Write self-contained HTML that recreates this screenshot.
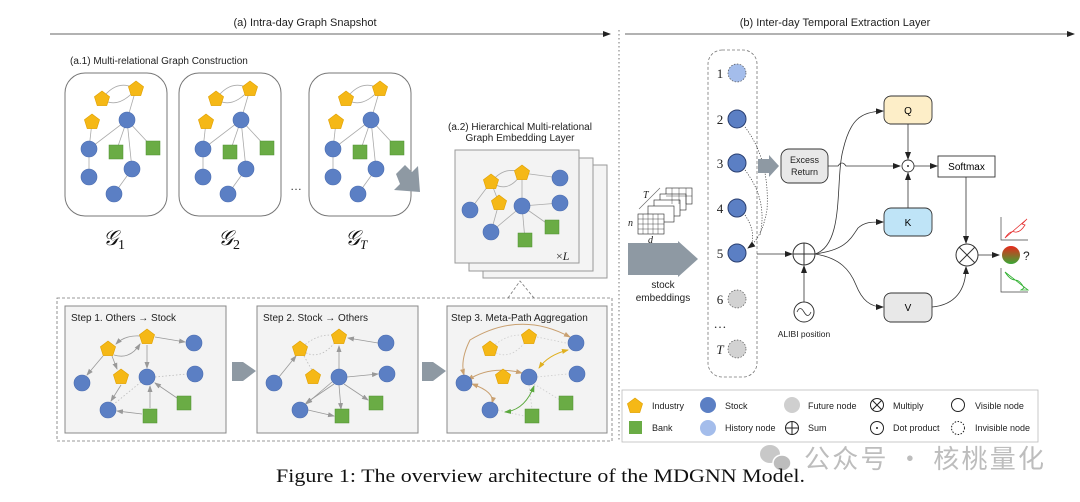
<!DOCTYPE html>
<html><head><meta charset="utf-8"><style>
html,body{margin:0;padding:0;background:#fff;width:1080px;height:502px;overflow:hidden}
svg{display:block}
</style></head><body>
<svg width="1080" height="502" viewBox="0 0 1080 502" xmlns="http://www.w3.org/2000/svg" font-family="Liberation Sans, sans-serif">
<defs>
<marker id="ah" markerWidth="8" markerHeight="8" refX="7" refY="4" orient="auto" markerUnits="userSpaceOnUse"><path d="M0,1 L8,4 L0,7 Z" fill="#222"/></marker>
<marker id="ahg" markerWidth="7" markerHeight="7" refX="6" refY="3.5" orient="auto" markerUnits="userSpaceOnUse"><path d="M0,1 L7,3.5 L0,6 Z" fill="#999"/></marker>
<marker id="aht" markerWidth="7" markerHeight="7" refX="6" refY="3.5" orient="auto-start-reverse" markerUnits="userSpaceOnUse"><path d="M0,1 L7,3.5 L0,6 Z" fill="#c9a070"/></marker>
<marker id="ahy" markerWidth="7" markerHeight="7" refX="6" refY="3.5" orient="auto-start-reverse" markerUnits="userSpaceOnUse"><path d="M0,1 L7,3.5 L0,6 Z" fill="#e0b020"/></marker>
<marker id="ahgr" markerWidth="7" markerHeight="7" refX="6" refY="3.5" orient="auto-start-reverse" markerUnits="userSpaceOnUse"><path d="M0,1 L7,3.5 L0,6 Z" fill="#5aa83c"/></marker>
<g id="P"><path d="M0,-8 L7.6,-2.3 L4.8,6.6 L-4.8,6.6 L-7.6,-2.3 Z" fill="#f5b816" stroke="#e0a000" stroke-width="0.6"/></g>
<g id="C"><circle r="8" fill="#5b7fc4" stroke="#4a6cb0" stroke-width="0.6"/></g>
<g id="S"><rect x="-7" y="-7" width="14" height="14" fill="#6aac45" stroke="#4f9030" stroke-width="0.5"/></g>
<linearGradient id="ball" x1="0" y1="0" x2="0" y2="1"><stop offset="0" stop-color="#e8281c"/><stop offset="1" stop-color="#3aa835"/></linearGradient>
<g id="G">
<rect x="65" y="73" width="102" height="143" rx="20" fill="#fff" stroke="#777" stroke-width="1"/>
<g stroke="#aaa" stroke-width="0.8" fill="none">
<path d="M102,99 Q117,78 136,89"/><path d="M102,99 Q118,110 136,89"/>
<line x1="136" y1="89" x2="127" y2="120"/><line x1="92" y1="122" x2="89" y2="149"/>
<line x1="127" y1="120" x2="89" y2="149"/><line x1="127" y1="120" x2="116" y2="152"/>
<line x1="127" y1="120" x2="153" y2="148"/><line x1="127" y1="120" x2="132" y2="169"/>
<line x1="89" y1="149" x2="89" y2="177"/><line x1="132" y1="169" x2="114" y2="194"/>
</g>
<use href="#P" x="102" y="99"/><use href="#P" x="136" y="89"/><use href="#P" x="92" y="122"/>
<use href="#C" x="127" y="120"/><use href="#C" x="89" y="149"/><use href="#C" x="89" y="177"/><use href="#C" x="132" y="169"/><use href="#C" x="114" y="194"/>
<use href="#S" x="116" y="152"/><use href="#S" x="153" y="148"/>
</g>
<g id="StepNodes">
<use href="#P" x="108" y="349"/><use href="#P" x="147" y="337"/><use href="#P" x="121" y="377"/>
<use href="#C" x="194" y="343"/><use href="#C" x="82" y="383"/><use href="#C" x="147" y="377"/><use href="#C" x="195" y="374"/><use href="#C" x="108" y="410"/>
<use href="#S" x="184" y="403"/><use href="#S" x="150" y="416"/>
</g>
</defs>

<text x="305" y="26" font-size="11" text-anchor="middle" fill="#222">(a) Intra-day Graph Snapshot</text>
<line x1="50" y1="34" x2="610" y2="34" stroke="#333" stroke-width="0.8" marker-end="url(#ah)"/>
<text x="835" y="26" font-size="11" text-anchor="middle" fill="#222">(b) Inter-day Temporal Extraction Layer</text>
<line x1="625" y1="34" x2="1074" y2="34" stroke="#333" stroke-width="0.8" marker-end="url(#ah)"/>
<line x1="619" y1="30" x2="619" y2="442" stroke="#555" stroke-width="0.8" stroke-dasharray="1.5,2.5"/>

<text x="70" y="64" font-size="10" fill="#222">(a.1) Multi-relational Graph Construction</text>
<use href="#G"/>
<use href="#G" x="114"/>
<use href="#G" x="244"/>
<text x="290" y="190" font-size="12" fill="#333">…</text>
<g font-family="Liberation Serif, DejaVu Serif, serif" font-style="italic" fill="#111">
<text x="103" y="245" font-size="21">𝒢<tspan font-size="14" font-style="normal" dy="4">1</tspan></text>
<text x="218" y="245" font-size="21">𝒢<tspan font-size="14" font-style="normal" dy="4">2</tspan></text>
<text x="345" y="245" font-size="21">𝒢<tspan font-size="13" dy="4">T</tspan></text>
</g>
<path d="M396,174 L405,165 L412,172 L418,166 L420,192 L394,190 L400,184 Z" fill="#8e99a3"/>

<text x="520" y="130" font-size="10" text-anchor="middle" fill="#222">(a.2) Hierarchical Multi-relational</text>
<text x="520" y="141" font-size="10" text-anchor="middle" fill="#222">Graph Embedding Layer</text>
<rect x="483" y="165" width="124" height="113" fill="#f4f4f4" stroke="#999"/>
<rect x="469" y="158" width="124" height="113" fill="#f4f4f4" stroke="#999"/>
<rect x="455" y="150" width="124" height="113" fill="#f3f3f3" stroke="#999"/>
<g stroke="#aaa" stroke-width="0.8" fill="none">
<path d="M491,182 Q505,165 522,173"/><path d="M491,182 Q508,195 522,173"/>
<line x1="522" y1="173" x2="560" y2="178"/><line x1="522" y1="173" x2="522" y2="206"/>
<line x1="491" y1="182" x2="470" y2="210"/><line x1="491" y1="182" x2="499" y2="203"/>
<line x1="522" y1="206" x2="560" y2="203"/><line x1="522" y1="206" x2="552" y2="227"/>
<line x1="522" y1="206" x2="525" y2="240"/><line x1="522" y1="206" x2="491" y2="232"/>
<line x1="499" y1="203" x2="491" y2="232"/>
</g>
<use href="#P" x="491" y="182"/><use href="#P" x="522" y="173"/><use href="#P" x="499" y="203"/>
<use href="#C" x="560" y="178"/><use href="#C" x="560" y="203"/><use href="#C" x="522" y="206"/><use href="#C" x="470" y="210"/><use href="#C" x="491" y="232"/>
<use href="#S" x="552" y="227"/><use href="#S" x="525" y="240"/>
<text x="556" y="260" font-size="12" font-family="Liberation Serif, serif" fill="#222">×<tspan font-style="italic">L</tspan></text>
<path d="M508,298 L520,281 L534,298" fill="none" stroke="#777" stroke-width="0.8" stroke-dasharray="3,2"/>

<rect x="57" y="298" width="555" height="143" fill="none" stroke="#777" stroke-width="0.8" stroke-dasharray="3,2"/>
<rect x="65" y="306" width="161" height="127" fill="#f3f3f3" stroke="#888"/>
<rect x="257" y="306" width="161" height="127" fill="#f3f3f3" stroke="#888"/>
<rect x="447" y="306" width="160" height="127" fill="#f3f3f3" stroke="#888"/>
<text x="71" y="321" font-size="10" fill="#222">Step 1. Others → Stock</text>
<text x="263" y="321" font-size="10" fill="#222">Step 2. Stock → Others</text>
<text x="451" y="321" font-size="10" fill="#222">Step 3. Meta-Path Aggregation</text>
<path d="M232,362 L243,362 L256,371 L243,381 L232,381 Z" fill="#8e99a3"/>
<path d="M422,362 L433,362 L446,371 L433,381 L422,381 Z" fill="#8e99a3"/>
<g stroke="#999" stroke-width="0.8" fill="none" marker-end="url(#ahg)">
<path d="M140,336 Q125,335 116,344"/><path d="M114,355 Q130,360 140,344"/>
<line x1="155" y1="337" x2="185" y2="342"/><line x1="147" y1="345" x2="147" y2="368"/>
<line x1="103" y1="356" x2="87" y2="375"/><line x1="112" y1="356" x2="117" y2="369"/>
<line x1="121" y1="385" x2="111" y2="401"/><line x1="150" y1="408" x2="150" y2="386"/>
<line x1="177" y1="398" x2="155" y2="383"/><line x1="142" y1="414" x2="117" y2="411"/>
</g>
<g stroke="#bbb" stroke-width="0.8" stroke-dasharray="1.5,2"><line x1="155" y1="377" x2="187" y2="374"/><line x1="141" y1="382" x2="114" y2="404"/></g>
<use href="#StepNodes"/>
<g stroke="#999" stroke-width="0.8" fill="none" marker-end="url(#ahg)">
<line x1="378" y1="343" x2="348" y2="338"/><line x1="339" y1="369" x2="339" y2="346"/>
<line x1="279" y1="377" x2="296" y2="356"/><line x1="347" y1="377" x2="378" y2="374"/>
<line x1="344" y1="384" x2="368" y2="400"/><line x1="339" y1="385" x2="341" y2="409"/>
<line x1="332" y1="382" x2="306" y2="404"/><line x1="308" y1="410" x2="334" y2="416"/>
<line x1="334" y1="384" x2="306" y2="403"/>
</g>
<g stroke="#bbb" stroke-width="0.8" stroke-dasharray="1.5,2" fill="none"><path d="M300,349 Q320,330 339,337"/><path d="M300,349 Q320,365 339,337"/><line x1="304" y1="356" x2="313" y2="372"/></g>
<use href="#StepNodes" x="192"/>
<g stroke="#ccc" stroke-width="0.8" stroke-dasharray="1.5,2" fill="none">
<path d="M490,349 Q510,330 529,337"/><path d="M490,349 Q510,365 529,337"/>
<line x1="537" y1="337" x2="566" y2="343"/><line x1="537" y1="377" x2="567" y2="374"/>
<line x1="534" y1="384" x2="560" y2="400"/><line x1="529" y1="385" x2="532" y2="409"/>
<line x1="498" y1="410" x2="524" y2="416"/>
</g>
<g stroke="#c9a070" stroke-width="1" fill="none">
<path d="M570,337 Q520,310 470,340 Q460,360 464,375" marker-end="url(#aht)" marker-start="url(#aht)"/>
<path d="M522,373 Q490,365 468,380" marker-end="url(#aht)" marker-start="url(#aht)"/>
<path d="M472,384 Q495,392 492,403" marker-end="url(#aht)" marker-start="url(#aht)"/>
</g>
<path d="M568,350 Q548,355 539,368" stroke="#e0b020" stroke-width="1" fill="none" marker-end="url(#ahy)" marker-start="url(#ahy)"/>
<path d="M534,386 Q525,410 505,412" stroke="#5aa83c" stroke-width="1" fill="none" marker-end="url(#ahgr)" marker-start="url(#ahgr)"/>
<g transform="translate(382,0)">
<use href="#P" x="108" y="349"/><use href="#P" x="147" y="337"/><use href="#P" x="121" y="377"/>
<use href="#C" x="194" y="343"/><use href="#C" x="82" y="383"/><use href="#C" x="147" y="377"/><use href="#C" x="195" y="374"/><use href="#C" x="108" y="410"/>
<use href="#S" x="184" y="403"/><use href="#S" x="150" y="416"/>
</g>

<g stroke="#222" stroke-width="0.6" fill="#fff">
<rect x="666" y="188" width="26" height="16"/><rect x="660" y="194" width="26" height="16"/><rect x="654" y="200" width="26" height="16"/><rect x="648" y="206" width="26" height="16"/><rect x="638" y="214" width="26" height="20"/>
</g>
<g stroke="#222" stroke-width="0.4">
<line x1="643" y1="214" x2="643" y2="234"/><line x1="648" y1="214" x2="648" y2="234"/><line x1="653" y1="214" x2="653" y2="234"/><line x1="658" y1="214" x2="658" y2="234"/>
<line x1="638" y1="219" x2="664" y2="219"/><line x1="638" y1="224" x2="664" y2="224"/><line x1="638" y1="229" x2="664" y2="229"/>
<line x1="672" y1="188" x2="672" y2="204"/><line x1="679" y1="188" x2="679" y2="204"/><line x1="686" y1="188" x2="686" y2="204"/><line x1="666" y1="196" x2="692" y2="196"/>
</g>
<line x1="639" y1="209" x2="660" y2="188" stroke="#666" stroke-width="0.6"/>
<g font-family="Liberation Serif, serif" font-style="italic" font-size="10" fill="#222">
<text x="643" y="198">T</text><text x="628" y="226">n</text><text x="648" y="243">d</text></g>
<path d="M628,243 L678,243 L678,241 L698,259 L678,277 L678,275 L628,275 Z" fill="#8e99a3"/>
<text x="663" y="288" font-size="10" text-anchor="middle" fill="#222">stock</text>
<text x="663" y="301" font-size="10" text-anchor="middle" fill="#222">embeddings</text>

<rect x="708" y="50" width="49" height="327" rx="14" fill="none" stroke="#777" stroke-width="0.8" stroke-dasharray="3,2"/>
<g font-family="Liberation Serif, serif" font-size="13" fill="#222" text-anchor="middle">
<text x="720" y="78">1</text><text x="720" y="124">2</text><text x="720" y="168">3</text><text x="720" y="213">4</text><text x="720" y="258">5</text><text x="720" y="304">6</text><text x="720" y="328">…</text><text x="720" y="354" font-style="italic">T</text></g>
<circle cx="737" cy="73" r="9" fill="#a4bdeb" stroke="#555" stroke-width="0.7" stroke-dasharray="1.5,1.5"/>
<circle cx="737" cy="119" r="9" fill="#5b7fc4" stroke="#2a3f70" stroke-width="1"/>
<circle cx="737" cy="163" r="9" fill="#5b7fc4" stroke="#2a3f70" stroke-width="1"/>
<circle cx="737" cy="208" r="9" fill="#5b7fc4" stroke="#2a3f70" stroke-width="1"/>
<circle cx="737" cy="253" r="9" fill="#5b7fc4" stroke="#2a3f70" stroke-width="1"/>
<circle cx="737" cy="299" r="9" fill="#d2d2d2" stroke="#555" stroke-width="0.7" stroke-dasharray="1.5,1.5"/>
<circle cx="737" cy="349" r="9" fill="#d2d2d2" stroke="#555" stroke-width="0.7" stroke-dasharray="1.5,1.5"/>
<g stroke="#333" stroke-width="0.7" stroke-dasharray="1.2,1.5" fill="none">
<path d="M745,127 Q770,160 767,210 Q762,238 748,248" marker-end="url(#ah)"/>
<path d="M745,170 Q768,200 760,235"/>
<path d="M745,215 Q755,230 752,243"/>
</g>
<path d="M758,159 L769,159 L769,155 L779,166 L769,177 L769,173 L758,173 Z" fill="#8e99a3"/>
<rect x="781" y="149" width="47" height="34" rx="8" fill="#e8e8e8" stroke="#333" stroke-width="0.9"/>
<text x="804.5" y="163" font-size="9" text-anchor="middle" fill="#222">Excess</text>
<text x="804.5" y="175" font-size="9" text-anchor="middle" fill="#222">Return</text>
<rect x="884" y="96" width="48" height="28" rx="7" fill="#fdeec8" stroke="#333" stroke-width="0.9"/>
<text x="908" y="114" font-size="10" text-anchor="middle">Q</text>
<rect x="884" y="208" width="48" height="28" rx="7" fill="#bfe4f7" stroke="#333" stroke-width="0.9"/>
<text x="908" y="226" font-size="10" text-anchor="middle">K</text>
<rect x="884" y="293" width="48" height="29" rx="7" fill="#e8e8e8" stroke="#333" stroke-width="0.9"/>
<text x="908" y="311" font-size="10" text-anchor="middle">V</text>
<rect x="938" y="156" width="57" height="21" fill="#fff" stroke="#333" stroke-width="0.9"/>
<text x="966.5" y="170" font-size="10" text-anchor="middle">Softmax</text>
<circle cx="908" cy="166" r="6" fill="#fff" stroke="#333" stroke-width="0.9"/><circle cx="908" cy="166" r="1" fill="#333"/>
<g stroke="#333" stroke-width="0.8" fill="none">
<path d="M828,166 L838,166 Q842,160 846,166 L900,166" marker-end="url(#ah)"/>
<line x1="908" y1="124" x2="908" y2="159" marker-end="url(#ah)"/>
<line x1="908" y1="208" x2="908" y2="173" marker-end="url(#ah)"/>
<line x1="914" y1="166" x2="937" y2="166" marker-end="url(#ah)"/>
<line x1="966" y1="177" x2="966" y2="243" marker-end="url(#ah)"/>
<line x1="757" y1="254" x2="792" y2="254" marker-end="url(#ah)"/>
<line x1="804" y1="302" x2="804" y2="266" marker-end="url(#ah)"/>
<path d="M815,254 C845,245 835,180 843,150 C850,120 860,112 883,111" marker-end="url(#ah)"/>
<path d="M815,254 C845,250 850,240 858,228 C865,222 870,222 883,222" marker-end="url(#ah)"/>
<path d="M815,254 C840,258 850,270 856,285 C862,300 870,307 883,307" marker-end="url(#ah)"/>
<path d="M932,307 C955,305 966,290 966,267" marker-end="url(#ah)"/>
<line x1="978" y1="255" x2="999" y2="255" marker-end="url(#ah)"/>
</g>
<circle cx="804" cy="254" r="11" fill="#fff" stroke="#333" stroke-width="1"/>
<line x1="793" y1="254" x2="815" y2="254" stroke="#333"/><line x1="804" y1="243" x2="804" y2="265" stroke="#333"/>
<circle cx="804" cy="312" r="10" fill="#fff" stroke="#333" stroke-width="1"/>
<path d="M797,312 Q800,305 804,312 Q808,319 811,312" fill="none" stroke="#333" stroke-width="0.8"/>
<text x="804" y="337" font-size="8.5" text-anchor="middle" fill="#222">ALIBI position</text>
<circle cx="967" cy="255" r="11" fill="#fff" stroke="#333" stroke-width="1"/>
<line x1="959" y1="247" x2="975" y2="263" stroke="#333"/><line x1="975" y1="247" x2="959" y2="263" stroke="#333"/>
<circle cx="1011" cy="255" r="9" fill="url(#ball)"/>
<text x="1023" y="260" font-size="12" fill="#222">?</text>
<g stroke="#444" stroke-width="0.7" fill="none">
<path d="M1001,217 L1001,240 L1028,240"/><path d="M1001,268 L1001,292 L1028,292"/></g>
<path d="M1005,238 Q1010,230 1015,232 Q1020,233 1025,225 L1022,224 L1027,219 Z" fill="none" stroke="#e53030" stroke-width="0.8"/>
<path d="M1005,272 Q1010,280 1015,280 Q1020,280 1024,288 L1021,290 L1028,290 Z" fill="none" stroke="#30b030" stroke-width="0.8"/>

<rect x="622" y="390" width="416" height="52" fill="#fff" stroke="#bbb" stroke-width="0.8"/>
<g font-size="9" fill="#222">
<use href="#P" x="635" y="406"/><text x="652" y="409">Industry</text>
<circle cx="708" cy="405" r="8" fill="#5b7fc4"/><text x="725" y="409">Stock</text>
<circle cx="792" cy="405" r="8" fill="#cfcfcf"/><text x="808" y="409">Future node</text>
<circle cx="877" cy="405" r="6.5" fill="#fff" stroke="#222"/><line x1="872.4" y1="400.4" x2="881.6" y2="409.6" stroke="#222"/><line x1="881.6" y1="400.4" x2="872.4" y2="409.6" stroke="#222"/><text x="893" y="409">Multiply</text>
<circle cx="958" cy="405" r="6.5" fill="#fff" stroke="#222"/><text x="975" y="409">Visible node</text>
<rect x="629" y="421" width="13" height="13" fill="#6aac45"/><text x="652" y="431">Bank</text>
<circle cx="708" cy="428" r="8" fill="#a4bdeb"/><text x="725" y="431">History node</text>
<circle cx="792" cy="428" r="6.5" fill="#fff" stroke="#222"/><line x1="785.5" y1="428" x2="798.5" y2="428" stroke="#222"/><line x1="792" y1="421.5" x2="792" y2="434.5" stroke="#222"/><text x="808" y="431">Sum</text>
<circle cx="877" cy="428" r="6.5" fill="#fff" stroke="#222"/><circle cx="877" cy="428" r="1" fill="#222"/><text x="893" y="431">Dot product</text>
<circle cx="958" cy="428" r="6.5" fill="#fff" stroke="#222" stroke-dasharray="1.5,1.5"/><text x="975" y="431">Invisible node</text>
</g>

<ellipse cx="770" cy="454" rx="10" ry="9" fill="#c8c8c8"/>
<ellipse cx="782" cy="463" rx="9" ry="8" fill="#bdbdbd" stroke="#fff" stroke-width="1.5"/>
<text x="804" y="468" font-size="26" fill="#bdbdbd" font-family="Noto Sans CJK SC, sans-serif" textLength="240">公众号 · 核桃量化</text>
<text x="276" y="482" font-size="19" font-family="Liberation Serif, serif" fill="#111" textLength="529" lengthAdjust="spacingAndGlyphs">Figure 1: The overview architecture of the MDGNN Model.</text>
</svg>
</body></html>
